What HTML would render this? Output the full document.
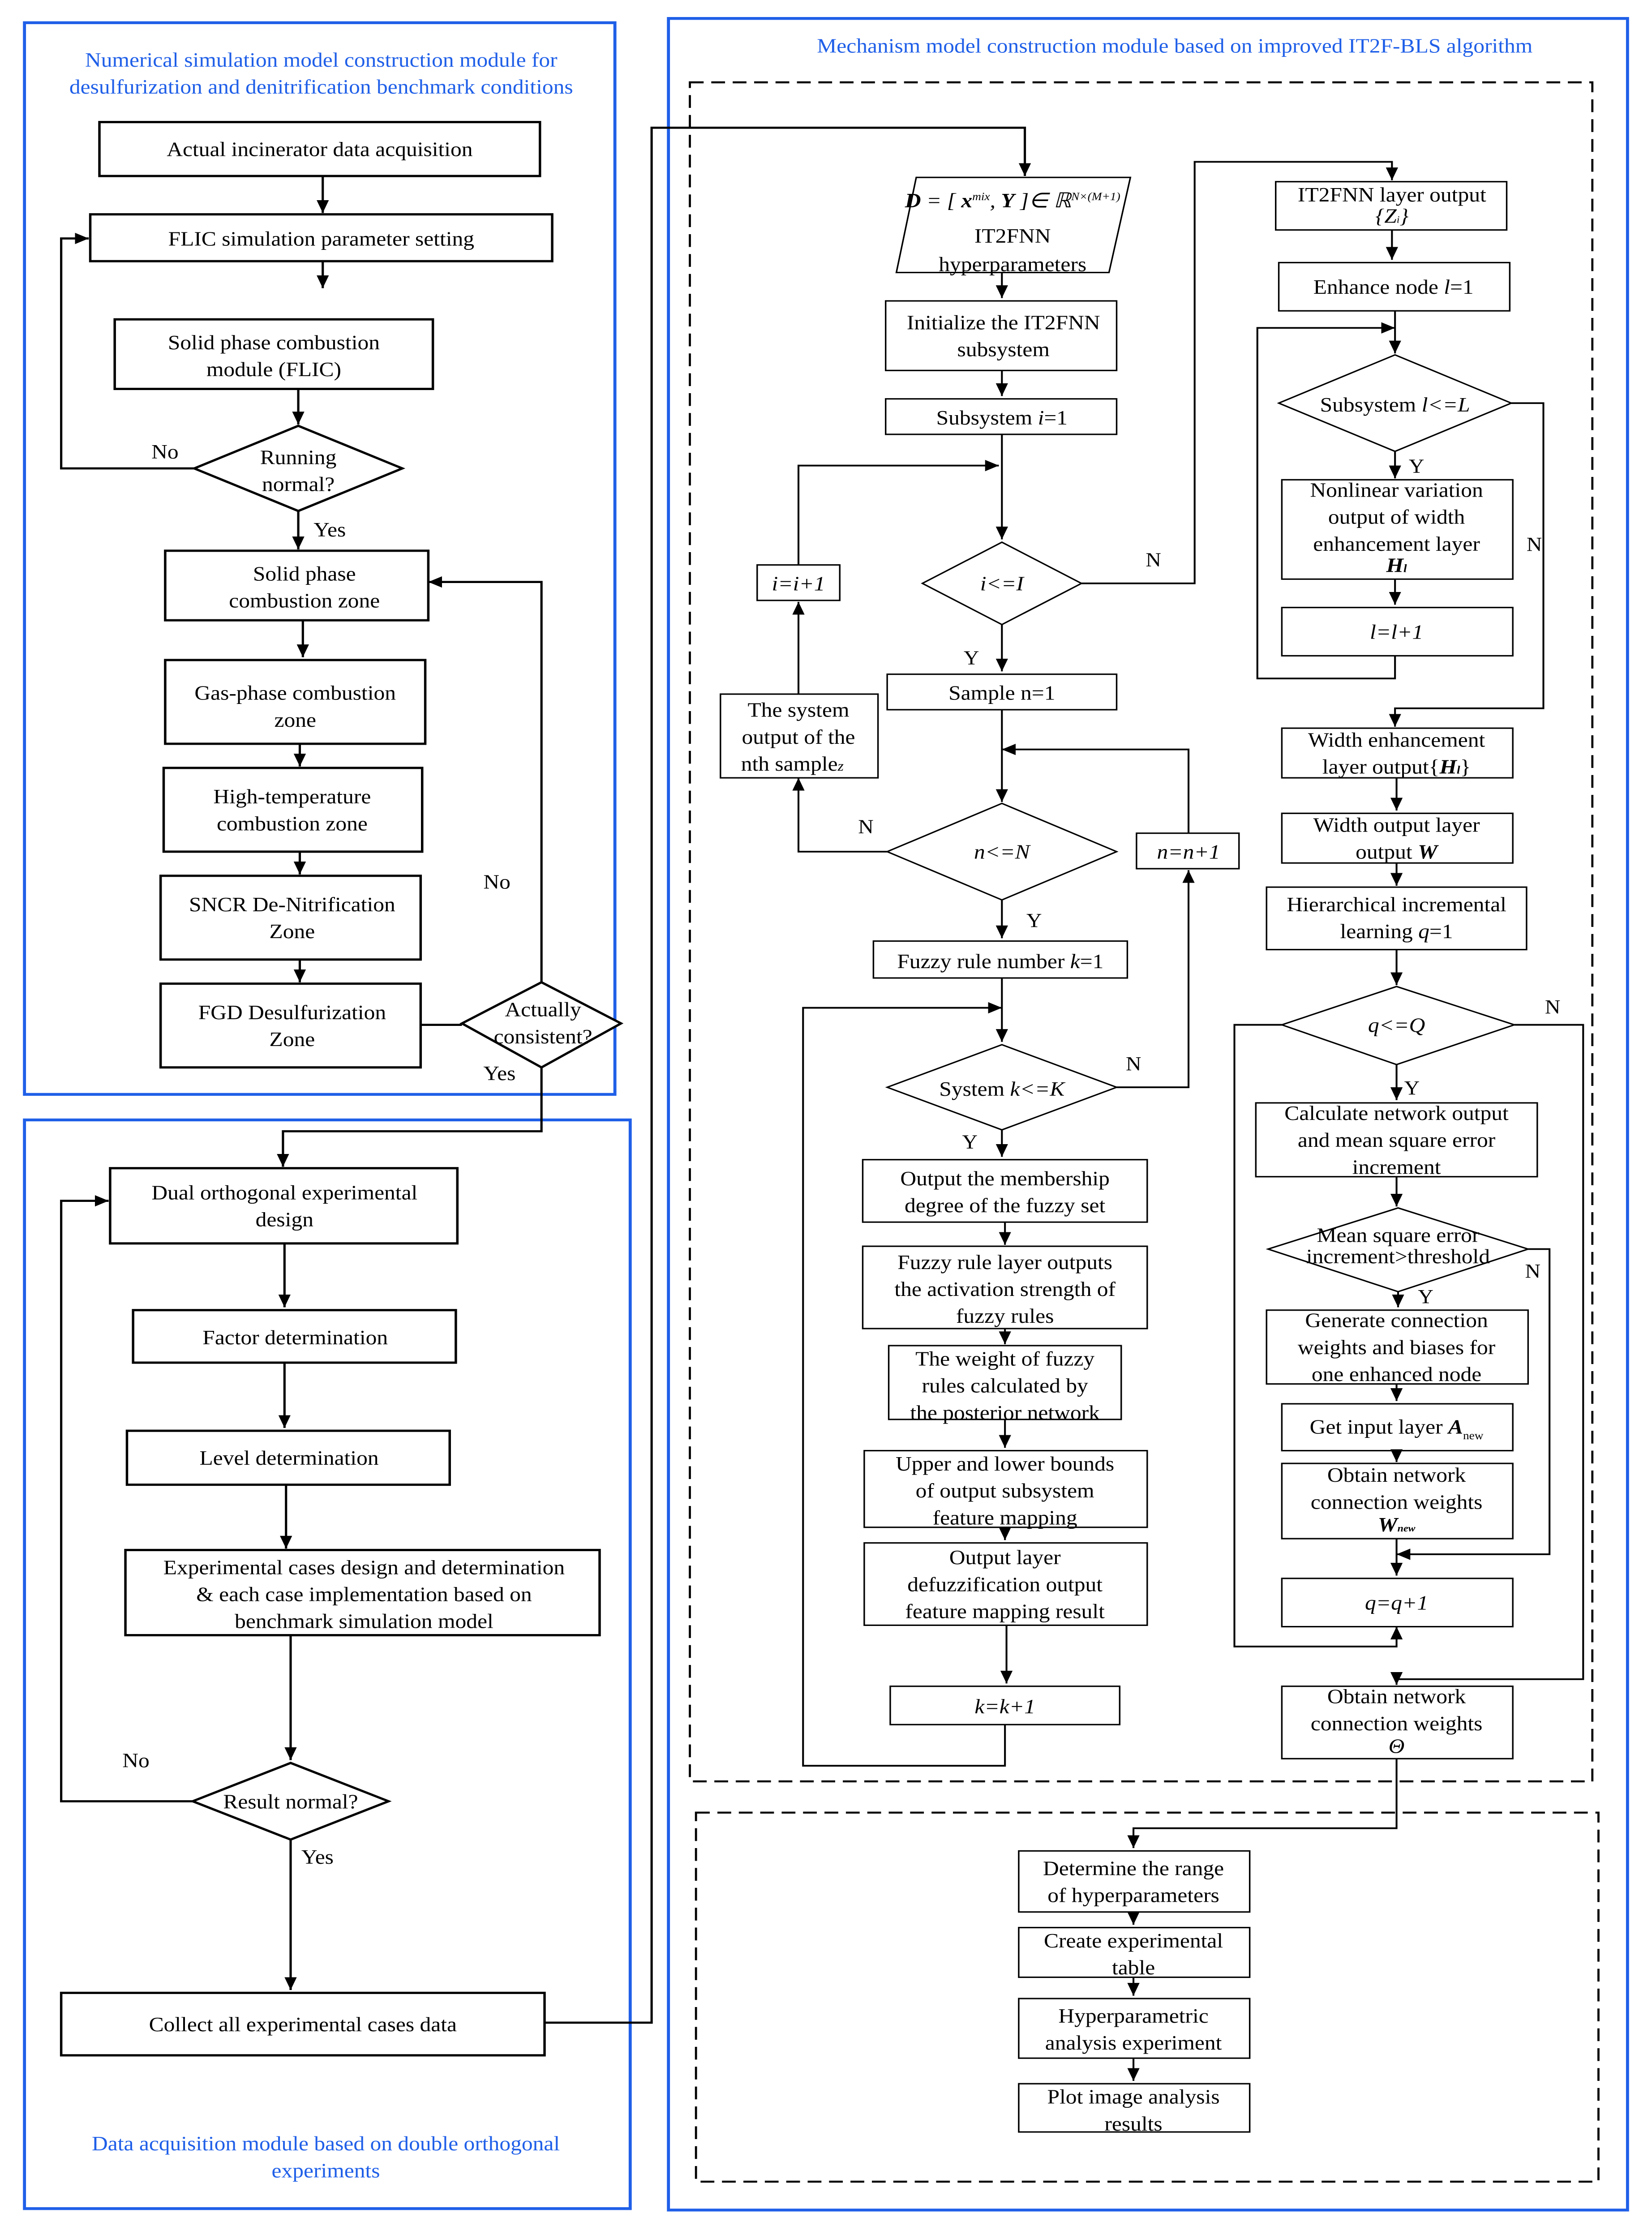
<!DOCTYPE html>
<html><head><meta charset="utf-8"><style>
html,body{margin:0;padding:0;background:#fff;overflow:hidden;width:100vw;height:100vh}
svg{display:block;position:absolute;left:0;top:0;width:100vw;height:100vh}
text{font-family:"Liberation Serif",serif;font-size:14.5px;fill:#000}
.b{fill:#1f5fe8}
.s{font-size:14px}
</style></head><body>
<svg viewBox="0 0 1080 1577.4" preserveAspectRatio="none" xmlns="http://www.w3.org/2000/svg">
<defs><marker id="a" markerUnits="userSpaceOnUse" markerWidth="10" markerHeight="10" refX="9" refY="4" orient="auto"><path d="M0,0 L9,4 L0,8 z" fill="#000"/></marker></defs>
<g fill="none" stroke="#1f5fe8" stroke-width="2">
<rect x="16" y="16" width="386" height="755"/>
<rect x="16" y="789" width="396" height="767"/>
<rect x="437" y="13" width="627" height="1544"/>
</g>
<g fill="none" stroke="#000" stroke-width="1.4" stroke-dasharray="9,5">
<rect x="451" y="58" width="590" height="1197"/>
<rect x="455" y="1277" width="590" height="260"/>
</g>
<g text-anchor="middle">
<text class="b" x="210" y="47">Numerical simulation model construction module for</text>
<text class="b" x="210" y="66">desulfurization and denitrification benchmark conditions</text>
<text class="b" x="213" y="1515">Data acquisition module based on double orthogonal</text>
<text class="b" x="213" y="1534">experiments</text>
<text class="b" x="768" y="37">Mechanism model construction module based on improved IT2F-BLS algorithm</text>
</g>
<g fill="#fff" stroke="#000" stroke-width="1.6">
<rect x="65" y="86" width="288" height="38"/>
<rect x="59" y="151" width="302" height="33"/>
<rect x="75" y="225" width="208" height="49"/>
<polygon points="127,330 195,300 263,330 195,360"/>
<rect x="108" y="388" width="172" height="49"/>
<rect x="108" y="465" width="170" height="59"/>
<rect x="107" y="541" width="169" height="59"/>
<rect x="105" y="617" width="170" height="59"/>
<rect x="105" y="693" width="170" height="59"/>
<polygon points="302,721 354,692 406,721 354,752"/>
<rect x="72" y="823" width="227" height="53"/>
<rect x="87" y="923" width="211" height="37"/>
<rect x="83" y="1008" width="211" height="38"/>
<rect x="82" y="1092" width="310" height="60"/>
<polygon points="126,1269 190,1242 254,1269 190,1296"/>
<rect x="40" y="1404" width="316" height="44"/>
</g>
<g fill="#fff" stroke="#000" stroke-width="1">
<polygon points="599,125 739,125 725,192 586,192"/>
<rect x="579" y="212" width="151" height="49"/>
<rect x="579" y="281" width="151" height="25"/>
<polygon points="603,411 655,382 707,411 655,440"/>
<rect x="495" y="398" width="54" height="25"/>
<rect x="580" y="475" width="150" height="25"/>
<rect x="471" y="489" width="103" height="59"/>
<polygon points="580,600 655,566 730,600 655,634"/>
<rect x="743" y="587" width="67" height="25"/>
<rect x="571" y="663" width="166" height="26"/>
<polygon points="580,766 655,736 730,766 655,796"/>
<rect x="564" y="817" width="186" height="44"/>
<rect x="564" y="878" width="186" height="58"/>
<rect x="581" y="948" width="152" height="52"/>
<rect x="565" y="1022" width="185" height="54"/>
<rect x="565" y="1087" width="185" height="58"/>
<rect x="582" y="1188" width="150" height="27"/>
<rect x="834" y="128" width="151" height="34"/>
<rect x="836" y="185" width="151" height="34"/>
<polygon points="836,284 912,250 988,284 912,318"/>
<rect x="838" y="338" width="151" height="70"/>
<rect x="838" y="428" width="151" height="34"/>
<rect x="838" y="513" width="151" height="35"/>
<rect x="838" y="573" width="151" height="35"/>
<rect x="828" y="625" width="170" height="44"/>
<polygon points="838,722 913,695 990,722 913,750"/>
<rect x="821" y="777" width="184" height="52"/>
<polygon points="829,880 914,851 999,880 914,910"/>
<rect x="828" y="923" width="171" height="52"/>
<rect x="838" y="989" width="151" height="33"/>
<rect x="838" y="1031" width="151" height="53"/>
<rect x="838" y="1112" width="151" height="34"/>
<rect x="838" y="1188" width="151" height="51"/>
<rect x="666" y="1304" width="151" height="43"/>
<rect x="666" y="1358" width="151" height="35"/>
<rect x="666" y="1408" width="151" height="42"/>
<rect x="666" y="1468" width="151" height="34"/>
</g>
<g fill="none" stroke="#000" stroke-width="1.5" marker-end="url(#a)">
<path d="M211,124V150"/><path d="M211,184V203"/><path d="M195,274V299"/>
<path d="M127,330H40V168H58"/><path d="M195,360V387"/>
<path d="M198,437V463"/><path d="M196,524V540"/><path d="M196,600V616"/><path d="M196,676V692"/>
<path d="M354,692V410H280"/><path d="M354,752V797H185V822"/>
<path d="M186,876V921"/><path d="M186,960V1006"/><path d="M187,1046V1091"/><path d="M190,1152V1240"/>
<path d="M126,1269H40V846H71"/><path d="M190,1296V1402"/>
<path d="M356,1425H426V90H670V124"/>
</g>
<path d="M275,722H302" stroke="#000" stroke-width="1.5"/>
<g fill="none" stroke="#000" stroke-width="1.2" marker-end="url(#a)">
<path d="M655,192V210"/><path d="M655,261V279"/><path d="M655,306V380"/>
<path d="M522,398V328H653"/>
<path d="M707,411H781V114H910V127"/>
<path d="M655,440V473"/><path d="M655,500V565"/>
<path d="M777,587V528H655"/>
<path d="M580,600H522V548"/><path d="M522,489V424"/>
<path d="M655,634V661"/><path d="M655,689V734"/>
<path d="M657,1215V1244H525V710H655"/>
<path d="M730,766H777V613"/>
<path d="M655,796V815"/><path d="M657,861V877"/><path d="M657,936V947"/><path d="M657,1000V1020"/><path d="M657,1076V1085"/><path d="M658,1145V1186"/>
<path d="M910,162V183"/><path d="M912,219V249"/>
<path d="M912,462V478H822V231H912"/>
<path d="M988,284H1009V499H912V512"/>
<path d="M912,318V337"/><path d="M912,408V426"/>
<path d="M913,548V571"/><path d="M913,608V624"/><path d="M913,669V694"/>
<path d="M990,722H1035V1183H913V1187"/>
<path d="M838,722H807V1160H913V1146"/>
<path d="M913,750V775"/><path d="M913,829V850"/>
<path d="M999,880H1013V1095H913"/>
<path d="M914,910V921"/><path d="M913,975V987"/><path d="M913,1022V1030"/><path d="M913,1084V1110"/>
<path d="M913,1239V1288H741V1302"/>
<path d="M741,1347V1356"/><path d="M741,1393V1406"/><path d="M741,1450V1466"/>
</g>
<g text-anchor="middle">
<text x="209" y="110">Actual incinerator data acquisition</text>
<text x="210" y="173">FLIC simulation parameter setting</text>
<text x="179" y="246">Solid phase combustion</text><text x="179" y="265">module (FLIC)</text>
<text x="195" y="327">Running</text><text x="195" y="346">normal?</text>
<text x="199" y="409">Solid phase</text><text x="199" y="428">combustion zone</text>
<text x="193" y="493">Gas-phase combustion</text><text x="193" y="512">zone</text>
<text x="191" y="566">High-temperature</text><text x="191" y="585">combustion zone</text>
<text x="191" y="642">SNCR De-Nitrification</text><text x="191" y="661">Zone</text>
<text x="191" y="718">FGD Desulfurization</text><text x="191" y="737">Zone</text>
<text x="355" y="716">Actually</text><text x="355" y="735">consistent?</text>
<text x="186" y="845">Dual orthogonal experimental</text><text x="186" y="864">design</text>
<text x="193" y="947">Factor determination</text>
<text x="189" y="1032">Level determination</text>
<text x="238" y="1109">Experimental cases design and determination</text>
<text x="238" y="1128">&amp; each case implementation based on</text>
<text x="238" y="1147">benchmark simulation model</text>
<text x="190" y="1274">Result normal?</text>
<text x="198" y="1431">Collect all experimental cases data</text>

<text x="662" y="146" font-style="italic" font-size="13"><tspan font-weight="bold">D</tspan> = [ <tspan font-weight="bold">x</tspan><tspan font-size="8" dy="-5">mix</tspan><tspan dy="5">, </tspan><tspan font-weight="bold">Y</tspan> ]∈ ℝ<tspan font-size="8" dy="-5">N×(M+1)</tspan></text>
<text x="662" y="171">IT2FNN</text><text x="662" y="191">hyperparameters</text>
<text x="656" y="232">Initialize the IT2FNN</text><text x="656" y="251">subsystem</text>
<text x="655" y="299">Subsystem <tspan font-style="italic">i</tspan>=1</text>
<text x="655" y="416" font-style="italic">i&lt;=I</text>
<text x="522" y="416" font-style="italic">i=i+1</text>
<text x="655" y="493">Sample n=1</text>
<text x="522" y="505">The system</text><text x="522" y="524">output of the</text><text x="518" y="543">nth sample<tspan font-style="italic" font-size="10">z</tspan></text>
<text x="655" y="605" font-style="italic">n&lt;=N</text>
<text x="777" y="605" font-style="italic">n=n+1</text>
<text x="654" y="682">Fuzzy rule number <tspan font-style="italic">k</tspan>=1</text>
<text x="655" y="772">System <tspan font-style="italic">k&lt;=K</tspan></text>
<text x="657" y="835">Output the membership</text><text x="657" y="854">degree of the fuzzy set</text>
<text x="657" y="894">Fuzzy rule layer outputs</text><text x="657" y="913">the activation strength of</text><text x="657" y="932">fuzzy rules</text>
<text x="657" y="962">The weight of fuzzy</text><text x="657" y="981">rules calculated by</text><text x="657" y="1000">the posterior network</text>
<text x="657" y="1036">Upper and lower bounds</text><text x="657" y="1055">of output subsystem</text><text x="657" y="1074">feature mapping</text>
<text x="657" y="1102">Output layer</text><text x="657" y="1121">defuzzification output</text><text x="657" y="1140">feature mapping result</text>
<text x="657" y="1207" font-style="italic">k=k+1</text>
<text x="910" y="142">IT2FNN layer output</text><text x="910" y="157" font-size="11" font-style="italic">{Z<tspan font-size="7">i</tspan>}</text>
<text x="911" y="207">Enhance node <tspan font-style="italic">l</tspan>=1</text>
<text x="912" y="290">Subsystem <tspan font-style="italic">l&lt;=L</tspan></text>
<text x="913" y="350">Nonlinear variation</text><text x="913" y="369">output of width</text><text x="913" y="388">enhancement layer</text><text x="913" y="403" font-style="italic" font-weight="bold" font-size="12">H<tspan font-size="8">l</tspan></text>
<text x="913" y="450" font-style="italic">l=l+1</text>
<text x="913" y="526">Width enhancement</text><text x="913" y="545">layer output{<tspan font-style="italic" font-weight="bold">H<tspan font-size="8">l</tspan></tspan>}</text>
<text x="913" y="586">Width output layer</text><text x="913" y="605">output <tspan font-style="italic" font-weight="bold">W</tspan></text>
<text x="913" y="642">Hierarchical incremental</text><text x="913" y="661">learning <tspan font-style="italic">q</tspan>=1</text>
<text x="913" y="727" font-style="italic">q&lt;=Q</text>
<text x="913" y="789">Calculate network output</text><text x="913" y="808">and mean square error</text><text x="913" y="827">increment</text>
<text x="914" y="875" font-size="12">Mean square error</text><text x="914" y="890" font-size="12">increment&gt;threshold</text>
<text x="913" y="935">Generate connection</text><text x="913" y="954">weights and biases for</text><text x="913" y="973">one enhanced node</text>
<text x="913" y="1010">Get input layer <tspan font-style="italic" font-weight="bold">A</tspan><tspan font-size="8" dy="4">new</tspan></text>
<text x="913" y="1044">Obtain network</text><text x="913" y="1063">connection weights</text><text x="913" y="1079" font-style="italic" font-weight="bold" font-size="12">W<tspan font-size="7">new</tspan></text>
<text x="913" y="1134" font-style="italic">q=q+1</text>
<text x="913" y="1200">Obtain network</text><text x="913" y="1219">connection weights</text><text x="913" y="1235" font-style="italic" font-size="12">Θ</text>
<text x="741" y="1321">Determine the range</text><text x="741" y="1340">of hyperparameters</text>
<text x="741" y="1372">Create experimental</text><text x="741" y="1391">table</text>
<text x="741" y="1425">Hyperparametric</text><text x="741" y="1444">analysis experiment</text>
<text x="741" y="1482">Plot image analysis</text><text x="741" y="1501">results</text>
</g>
<g>
<text x="99" y="323">No</text><text x="205" y="378">Yes</text><text x="316" y="626">No</text><text x="316" y="761">Yes</text>
<text x="80" y="1245">No</text><text x="197" y="1313">Yes</text>
<text x="749" y="399" class="s">N</text><text x="630" y="468" class="s">Y</text>
<text x="561" y="587" class="s">N</text><text x="671" y="653" class="s">Y</text>
<text x="736" y="754" class="s">N</text><text x="629" y="809" class="s">Y</text>
<text x="998" y="388" class="s">N</text><text x="921" y="333" class="s">Y</text>
<text x="1010" y="714" class="s">N</text><text x="918" y="771" class="s">Y</text>
<text x="997" y="900" class="s">N</text><text x="927" y="918" class="s">Y</text>
</g>
</svg>
</body></html>
